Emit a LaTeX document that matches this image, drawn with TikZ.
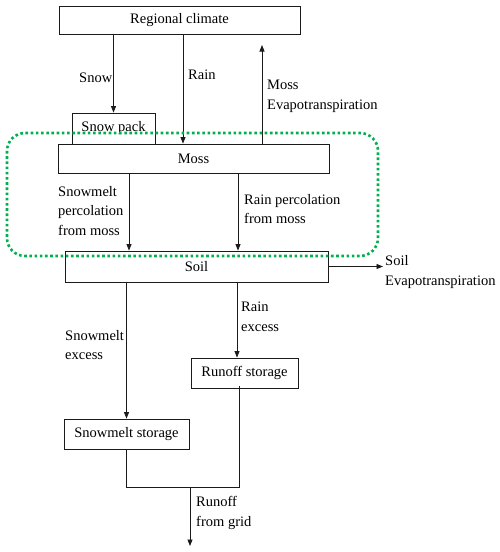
\documentclass[tikz,border=0pt]{standalone}
\usepackage{fontspec}
\setmainfont{Liberation Serif}
\usetikzlibrary{arrows.meta,positioning}
\definecolor{ink}{HTML}{1A1A1A}
\definecolor{mossgreen}{HTML}{00B050}
\tikzset{
  box/.style={draw=ink, line width=0.8pt, align=center, inner sep=0pt, font=\fontsize{14.5}{19.5}\selectfont},
  label/.style={anchor=west, inner sep=0pt, align=left, font=\fontsize{14.5}{19.5}\selectfont},
  arrow/.style={-{Triangle[length=6.5pt,width=5pt]}, line width=0.8pt, draw=ink},
  flow/.style={line width=0.8pt, draw=ink},
  zone/.style={draw=mossgreen, line width=2.6pt, dash pattern=on 2.6pt off 2.6pt, rounded corners=18pt}
}
\begin{document}
\begin{tikzpicture}[x=1pt,y=-1pt]
\useasboundingbox (0,0) rectangle (500,552);
% boxes
\node[box, minimum width=241pt, minimum height=28pt] (climate) at (179.5,20) {Regional climate};
\node[box, minimum width=83pt, minimum height=31pt] (snowpack) at (113.5,128.5) {Snow pack};
\node[box, minimum width=271pt, minimum height=29pt] (moss) at (193.5,158.5) {Moss};
\node[box, minimum width=263pt, minimum height=31pt] (soil) at (196.5,266.5) {Soil};
\node[box, minimum width=107pt, minimum height=30pt] (rostore) at (244.5,373) {Runoff storage};
\node[box, minimum width=125pt, minimum height=30pt] (smstore) at (126.5,434) {Snowmelt storage};
% helper coordinates
\coordinate (rainx) at (183,0);
\coordinate (mossetx) at (262,0);
\coordinate (mosset) at (262,45);
\coordinate (smpercx) at (129,0);
\coordinate (rnpercx) at (238,0);
\coordinate (soilet) at (383,266.5);
\coordinate (rnexx) at (237,0);
\coordinate (rooutx) at (239,0);
\coordinate (corner) at (126.5,487);
\coordinate (join) at (190,487);
\coordinate (grid) at (190,546);
% connectors
\draw[arrow] (climate.south -| snowpack.north) -- (snowpack.north);
\draw[arrow] (climate.south -| rainx) -- (moss.north -| rainx);
\draw[arrow] (moss.north -| mossetx) -- (mosset);
\draw[arrow] (moss.south -| smpercx) -- (soil.north -| smpercx);
\draw[arrow] (moss.south -| rnpercx) -- (soil.north -| rnpercx);
\draw[arrow] (soil.east) -- (soilet);
\draw[arrow] (soil.south -| smstore.north) -- (smstore.north);
\draw[arrow] (soil.south -| rnexx) -- (rostore.north -| rnexx);
\draw[flow] (smstore.south) -- (corner) -- (corner -| rooutx) -- ([yshift=2pt]rostore.south -| rooutx);
\draw[arrow] (join) -- (grid);
% labels
\node[label] (snowlbl) at (79,78) {Snow};
\node[label] (rainlbl) at (188,75) {Rain};
\node[label] (mossetlbl) at (267,96.5) {Moss\\Evapotranspiration};
\node[label] (smperclbl) at (58,211) {Snowmelt\\percolation\\from moss};
\node[label] (rnperclbl) at (244,209) {Rain percolation\\from moss};
\node[label] (soiletlbl) at (385,272) {Soil\\Evapotranspiration};
\node[label] (smexlbl) at (65,345) {Snowmelt\\excess};
\node[label] (rnexlbl) at (241,317) {Rain\\excess};
\node[label] (gridlbl) at (196,513) {Runoff\\from grid};
% moss layer
\draw[zone] (7,133) rectangle (378,256);
\end{tikzpicture}
\end{document}
